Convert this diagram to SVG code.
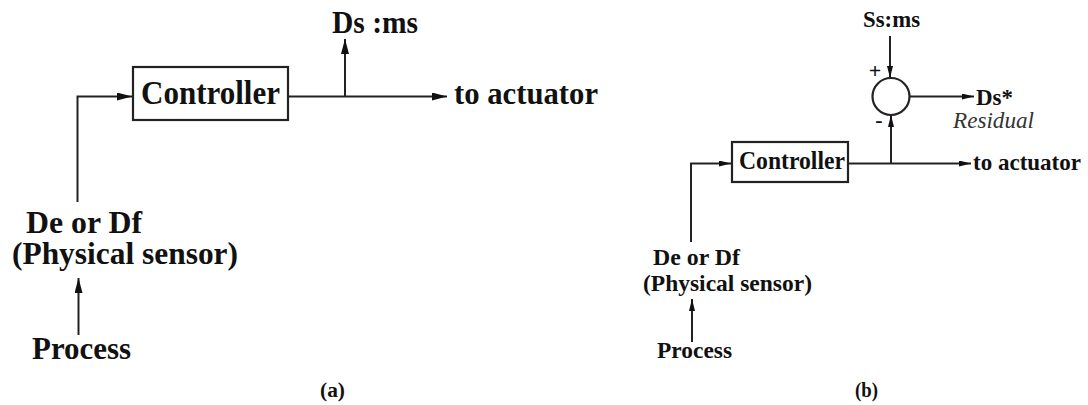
<svg xmlns="http://www.w3.org/2000/svg" width="1088" height="405" viewBox="0 0 1088 405">
<defs>
<marker id="arrA" markerUnits="userSpaceOnUse" markerWidth="15" markerHeight="8" refX="15" refY="4" orient="auto"><path d="M0,0 L15,4 L0,8 z" fill="#111"/></marker>
<marker id="arrB" markerUnits="userSpaceOnUse" markerWidth="12" markerHeight="6" refX="12" refY="3" orient="auto"><path d="M0,0 L12,3 L0,6 z" fill="#111"/></marker>
</defs>
<style>
text{font-family:"Liberation Serif","Times New Roman",serif;font-weight:bold;fill:#111}
.a{font-size:31px}
.b{font-size:23.5px}
.it{font-style:italic;font-weight:normal;fill:#333}
.box{fill:#fff;stroke:#222;stroke-width:2.2}
.ln{fill:none;stroke:#222;stroke-width:2}
</style>
<rect width="1088" height="405" fill="#fff"/>
<g id="connectors">
<path class="ln" d="M77.5,202 V96.5 H132" marker-end="url(#arrA)"/>
<path class="ln" d="M288,96.5 H447" marker-end="url(#arrA)"/>
<path class="ln" d="M345,96.5 V39" marker-end="url(#arrA)"/>
<path class="ln" d="M78.5,335 V278" marker-end="url(#arrA)"/>
<path class="ln" d="M691,242 V163.5 H731" marker-end="url(#arrB)"/>
<path class="ln" d="M848,163.5 H971" marker-end="url(#arrB)"/>
<path class="ln" d="M891,163.5 V115" marker-end="url(#arrB)"/>
<path class="ln" d="M890,36 V78" marker-end="url(#arrB)"/>
<path class="ln" d="M910,96.5 H974" marker-end="url(#arrB)"/>
<path class="ln" d="M692,342 V299" marker-end="url(#arrB)"/>
</g>
<g id="a-controller"><rect class="box" x="133" y="67" width="155" height="53"/><text class="a" x="141" y="104" textLength="139" lengthAdjust="spacingAndGlyphs" style="font-size:33px">Controller</text></g>
<g id="a-dsms"><text class="a" x="332" y="33" textLength="86" lengthAdjust="spacingAndGlyphs">Ds :ms</text></g>
<g id="a-actuator"><text class="a" x="454" y="104" textLength="144" lengthAdjust="spacingAndGlyphs">to actuator</text></g>
<g id="a-sensor"><text class="a" x="26" y="233" textLength="116" lengthAdjust="spacingAndGlyphs">De or Df</text><text class="a" x="12" y="264" textLength="226" lengthAdjust="spacingAndGlyphs">(Physical sensor)</text></g>
<g id="a-process"><text class="a" x="32" y="359" textLength="99" lengthAdjust="spacingAndGlyphs">Process</text></g>
<g id="a-label"><text x="320" y="397" style="font-size:20px" textLength="25" lengthAdjust="spacingAndGlyphs">(a)</text></g>
<g id="b-controller"><rect class="box" x="732" y="142" width="116" height="40"/><text class="b" x="739" y="169" textLength="106" lengthAdjust="spacingAndGlyphs" style="font-size:24.5px">Controller</text></g>
<g id="b-sum"><circle class="box" cx="891" cy="96.5" r="18.5"/><text x="875" y="78" text-anchor="middle" style="font-size:22px">+</text><text x="879" y="127" text-anchor="middle" style="font-size:22px">-</text></g>
<g id="b-ssms"><text class="b" x="863" y="27" textLength="57" lengthAdjust="spacingAndGlyphs">Ss:ms</text></g>
<g id="b-residual"><text class="b" x="976" y="105" textLength="37" lengthAdjust="spacingAndGlyphs">Ds*</text><text class="b it" x="953" y="128" textLength="81" lengthAdjust="spacingAndGlyphs">Residual</text></g>
<g id="b-actuator"><text class="b" x="973" y="170" textLength="108" lengthAdjust="spacingAndGlyphs">to actuator</text></g>
<g id="b-sensor"><text class="b" x="653" y="265" textLength="87" lengthAdjust="spacingAndGlyphs">De or Df</text><text class="b" x="643" y="291" textLength="169" lengthAdjust="spacingAndGlyphs">(Physical sensor)</text></g>
<g id="b-process"><text class="b" x="657" y="358" textLength="75" lengthAdjust="spacingAndGlyphs">Process</text></g>
<g id="b-label"><text x="855" y="397" style="font-size:20px" textLength="23" lengthAdjust="spacingAndGlyphs">(b)</text></g>
</svg>
